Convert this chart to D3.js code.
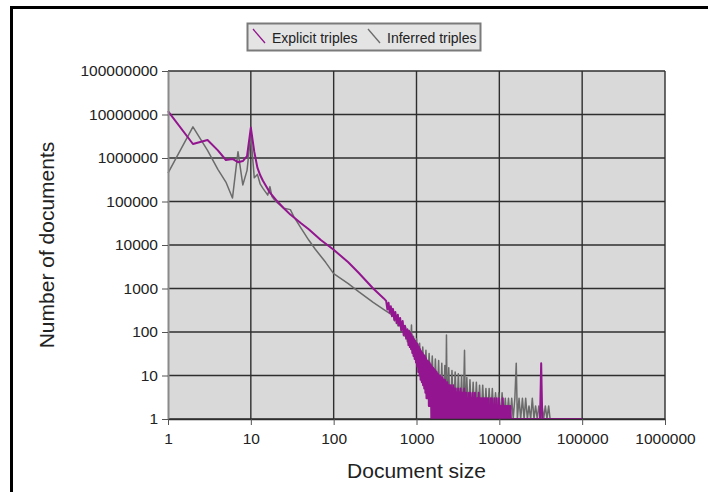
<!DOCTYPE html>
<html>
<head>
<meta charset="utf-8">
<script src="https://cdn.jsdelivr.net/npm/d3@7"></script>
<style>
  body { margin: 0; background: #fff; }
  svg { display: block; font-family: "Liberation Sans", Arial, sans-serif; }
</style>
</head>
<body>
<div id="chart"></div>
<script>
// tick values
const xTicks = [1, 10, 100, 1000, 10000, 100000, 1000000];
const yTicks = [1, 10, 100, 1000, 10000, 100000, 1000000, 10000000, 100000000];

const seriesNames = ['Explicit triples', 'Inferred triples'];

// Explicit triples
const explicitSize = [
  1, 2, 3, 4, 5, 6, 7, 8, 9, 10, 11, 12, 13, 14, 15, 17, 20, 25, 30, 40, 50, 70, 100, 150, 200, 300, 400,
  430, 445, 460, 475, 490, 505, 520, 540, 555, 575, 595, 615, 635, 655, 680, 700, 725, 750, 775, 800,
  815, 830, 845, 860, 875, 890, 905, 920, 935, 950, 968, 985, 1002, 1020, 1035, 1050, 1070, 1090, 1105,
  1120, 1140, 1160, 1180, 1200, 1220, 1240, 1260, 1280, 1300, 1320, 1345, 1370, 1390, 1410, 1435, 1460,
  1485, 1510, 1535, 1560, 1585, 1610, 1640, 1670, 1695, 1720, 1750, 1780, 1810, 1840, 1870, 1900, 1930,
  1960, 1995, 2030, 2065, 2100, 2135, 2170, 2205, 2240, 2280, 2320, 2360, 2400, 2440, 2480, 2520, 2560,
  2600, 2645, 2690, 2735, 2780, 2830, 2880, 2930, 2980, 3030,
  3080, 3130, 3185, 3240, 3295, 3350, 3405, 3460, 3520, 3580,
  3640, 3700, 3765, 3830, 3895, 3960, 4025, 4090, 4160, 4230,
  4305, 4380, 4455, 4530, 4605, 4680, 4760, 4840, 4920, 5000,
  5085, 5170, 5260, 5350, 5440, 5530, 5625, 5720, 5815, 5910,
  6010, 6110, 6215, 6320, 6430, 6540, 6650, 6760, 6875, 6990,
  7110, 7230, 7355, 7480, 7605, 7730, 7865, 8000, 8135, 8270,
  8410, 8550, 8695, 8840, 8990, 9140, 9295, 9450, 9615, 9780,
  9940, 10100, 10275, 10450, 10625, 10800, 11000, 11200, 11400, 11600,
  11800, 12000, 12200, 12400, 12600, 12800, 13050, 13300, 13550, 13800,
  16000, 20000, 25000, 31000, 32000, 33000, 50000, 100000
];
const explicitCount = [
  12000000, 2100000, 2600000, 1500000, 900000, 950000, 800000, 850000, 1100000, 5000000, 1400000, 600000,
  400000, 300000, 240000, 160000, 110000, 70000, 50000, 32000, 23000, 13000, 7800, 4000, 2300, 1000, 600,
  520, 330, 470, 280, 390, 230, 340, 190, 290, 160, 250, 140, 210, 110, 180, 85, 140, 70, 115, 50,
  105, 45, 95, 40, 85, 33, 75, 28, 68, 24, 62, 20, 56, 16, 52, 12, 46, 10, 40,
  8, 36, 7, 33, 6, 30, 5, 28, 4, 25, 3, 22, 3, 21, 2, 20, 2,
  18, 1, 16, 1, 15, 1, 14, 1, 13, 1, 12, 1, 11, 1, 10, 1, 10,
  1, 9, 1, 9, 1, 8, 1, 8, 1, 7, 1, 7, 1, 6, 1, 6, 1,
  6, 1, 5, 1, 6, 1, 5, 1, 5, 1,
  4, 1, 5, 1, 4, 1, 5, 1, 4, 1,
  4, 1, 5, 1, 4, 1, 4, 1, 3, 1,
  4, 1, 4, 1, 3, 1, 4, 1, 3, 1,
  4, 1, 3, 1, 3, 1, 4, 1, 3, 1,
  3, 1, 3, 1, 3, 1, 3, 1, 3, 1,
  3, 1, 3, 1, 2, 1, 3, 1, 3, 1,
  2, 1, 3, 1, 2, 1, 3, 1, 2, 1,
  3, 1, 2, 1, 2, 1, 3, 1, 2, 1,
  2, 1, 2, 1, 2, 1, 2, 1, 2, 1,
  1, 1, 1, 1, 19, 1, 1, 1
];

// Inferred triples
const inferredSize = [
  1, 2, 3, 4, 5, 6, 7, 8, 9, 10, 11, 12, 13, 14, 16, 17, 18, 20, 25, 30, 33, 40, 50, 60, 70, 80, 100,
  150, 200, 300, 400, 500,
  520, 545, 570, 595, 620, 650, 680, 710, 740, 775, 810, 845, 870, 885, 920, 960, 1000, 1040, 1090, 1140,
  1190, 1240, 1300, 1360, 1420, 1480, 1550, 1620, 1690, 1770, 1850, 1930, 2020, 2110, 2200, 2250, 2300,
  2350, 2450, 2560, 2680, 2800, 2930, 3060, 3200, 3350, 3500, 3650, 3800, 3900, 4050, 4230, 4420, 4620,
  4830, 5050, 5280, 5520, 5770, 6030, 6300, 6590, 6890, 7200, 7530, 7870, 8230, 8600, 9000, 9400, 9830,
  10300, 10800, 11300, 11800, 12300, 12900, 13500, 14100, 14700, 15400, 16000, 16500, 17300, 18100,
  19000, 19900, 20800, 21800, 22800, 23900, 25000, 26200, 27400, 28700, 30000, 31400, 32800, 34300,
  35900, 37600, 39400, 41000
];
const inferredCount = [
  450000, 5200000, 1500000, 550000, 280000, 120000, 1400000, 240000, 520000, 3500000, 350000, 420000,
  250000, 200000, 140000, 220000, 130000, 100000, 70000, 65000, 45000, 25000, 13000, 8000, 5500, 4000, 2200,
  1300, 850, 480, 330, 250,
  270, 180, 240, 140, 200, 110, 170, 80, 130, 60, 110, 45, 145, 40, 80, 30, 70, 20, 55, 14,
  45, 9, 38, 6, 32, 4, 28, 3, 24, 2, 22, 1, 19, 1, 17, 1, 85,
  1, 15, 1, 13, 1, 12, 1, 11, 1, 10, 1, 38, 1, 9, 1, 8, 1,
  7, 1, 7, 1, 6, 1, 6, 1, 5, 1, 5, 1, 5, 1, 4, 1, 4,
  1, 4, 1, 3, 1, 3, 1, 3, 1, 3, 19, 1, 3, 1,
  3, 1, 3, 1, 2, 1, 3, 1, 2, 1, 2, 1, 2, 1,
  2, 1, 2, 1
];

const width = 708, height = 492;
const plot = { left: 168, right: 665, top: 71, bottom: 419 };
const explicitColor = '#93158f';
const inferredColor = '#6b6b6b';

const svg = d3.select('#chart')
  .append('svg')
  .attr('width', width)
  .attr('height', height);

// outer frame (only top and left edges show)
svg.append('path')
  .attr('d', `M11.5,${height} V7.5 H${width}`)
  .attr('fill', 'none')
  .attr('stroke', '#000')
  .attr('stroke-width', 3);

const x = d3.scaleLog().domain([1, 1000000]).range([plot.left, plot.right]);
const y = d3.scaleLog().domain([1, 100000000]).range([plot.bottom, plot.top]);

svg.append('rect')
  .attr('x', plot.left)
  .attr('y', plot.top)
  .attr('width', plot.right - plot.left)
  .attr('height', plot.bottom - plot.top)
  .attr('fill', '#d9d9d9');

// gridlines
svg.append('g')
  .selectAll('line.hgrid')
  .data(yTicks)
  .enter().append('line')
  .attr('x1', plot.left).attr('x2', plot.right)
  .attr('y1', d => y(d)).attr('y2', d => y(d))
  .attr('stroke', '#2e2e2e')
  .attr('stroke-width', 1.4);

svg.append('g')
  .selectAll('line.vgrid')
  .data(xTicks.slice(1))
  .enter().append('line')
  .attr('x1', d => x(d)).attr('x2', d => x(d))
  .attr('y1', plot.top).attr('y2', plot.bottom)
  .attr('stroke', '#2e2e2e')
  .attr('stroke-width', 1.4);

// series
const line = d3.line()
  .x(d => x(d[0]))
  .y(d => y(d[1]));

const inferred = d3.zip(inferredSize, inferredCount);
const explicit = d3.zip(explicitSize, explicitCount);

svg.append('path')
  .datum(inferred)
  .attr('d', line)
  .attr('fill', 'none')
  .attr('stroke', inferredColor)
  .attr('stroke-width', 1.5)
  .attr('stroke-linejoin', 'round');

svg.append('path')
  .datum(explicit)
  .attr('d', line)
  .attr('fill', 'none')
  .attr('stroke', explicitColor)
  .attr('stroke-width', 2)
  .attr('stroke-linejoin', 'round');

// axes
const yAxis = svg.append('g')
  .attr('transform', `translate(${plot.left},0)`)
  .call(d3.axisLeft(y).tickValues(yTicks).tickFormat(d3.format('d')).tickSize(6).tickSizeOuter(0).tickPadding(4));
yAxis.select('.domain').attr('stroke', '#8a8a8a').attr('stroke-width', 2);
yAxis.selectAll('.tick line').attr('stroke', '#555');
yAxis.selectAll('.tick text')
  .attr('font-size', 15.5)
  .attr('fill', '#222')
  .attr('font-family', '"Liberation Sans", Arial, sans-serif');

const xAxis = svg.append('g')
  .attr('transform', `translate(0,${plot.bottom})`)
  .call(d3.axisBottom(x).tickValues(xTicks).tickFormat(d3.format('d')).tickSize(6).tickSizeOuter(0).tickPadding(8));
xAxis.select('.domain').attr('stroke', '#2e2e2e').attr('stroke-width', 1.4);
xAxis.selectAll('.tick line').attr('stroke', '#555');
xAxis.selectAll('.tick text')
  .attr('font-size', 15.5)
  .attr('fill', '#222')
  .attr('font-family', '"Liberation Sans", Arial, sans-serif');

// axis titles
svg.append('text')
  .attr('x', (plot.left + plot.right) / 2)
  .attr('y', 478)
  .attr('text-anchor', 'middle')
  .attr('font-size', 21)
  .attr('fill', '#222')
  .text('Document size');

svg.append('text')
  .attr('transform', `translate(54,${(plot.top + plot.bottom) / 2}) rotate(-90)`)
  .attr('text-anchor', 'middle')
  .attr('font-size', 21)
  .attr('fill', '#222')
  .text('Number of documents');

// legend
const legend = svg.append('g');
legend.append('rect')
  .attr('x', 247.5).attr('y', 23.5)
  .attr('width', 233).attr('height', 27)
  .attr('fill', '#e4e4e4')
  .attr('stroke', '#7a7a7a')
  .attr('stroke-width', 2);

const legendItems = [
  { name: seriesNames[0], color: explicitColor, x: 253 },
  { name: seriesNames[1], color: inferredColor, x: 368 }
];
legendItems.forEach(it => {
  legend.append('line')
    .attr('x1', it.x).attr('y1', 29)
    .attr('x2', it.x + 12).attr('y2', 43)
    .attr('stroke', it.color)
    .attr('stroke-width', 1.3);
  legend.append('text')
    .attr('x', it.x + 19).attr('y', 43)
    .attr('font-size', 14)
    .attr('fill', '#222')
    .text(it.name);
});
</script>
</body>
</html>
